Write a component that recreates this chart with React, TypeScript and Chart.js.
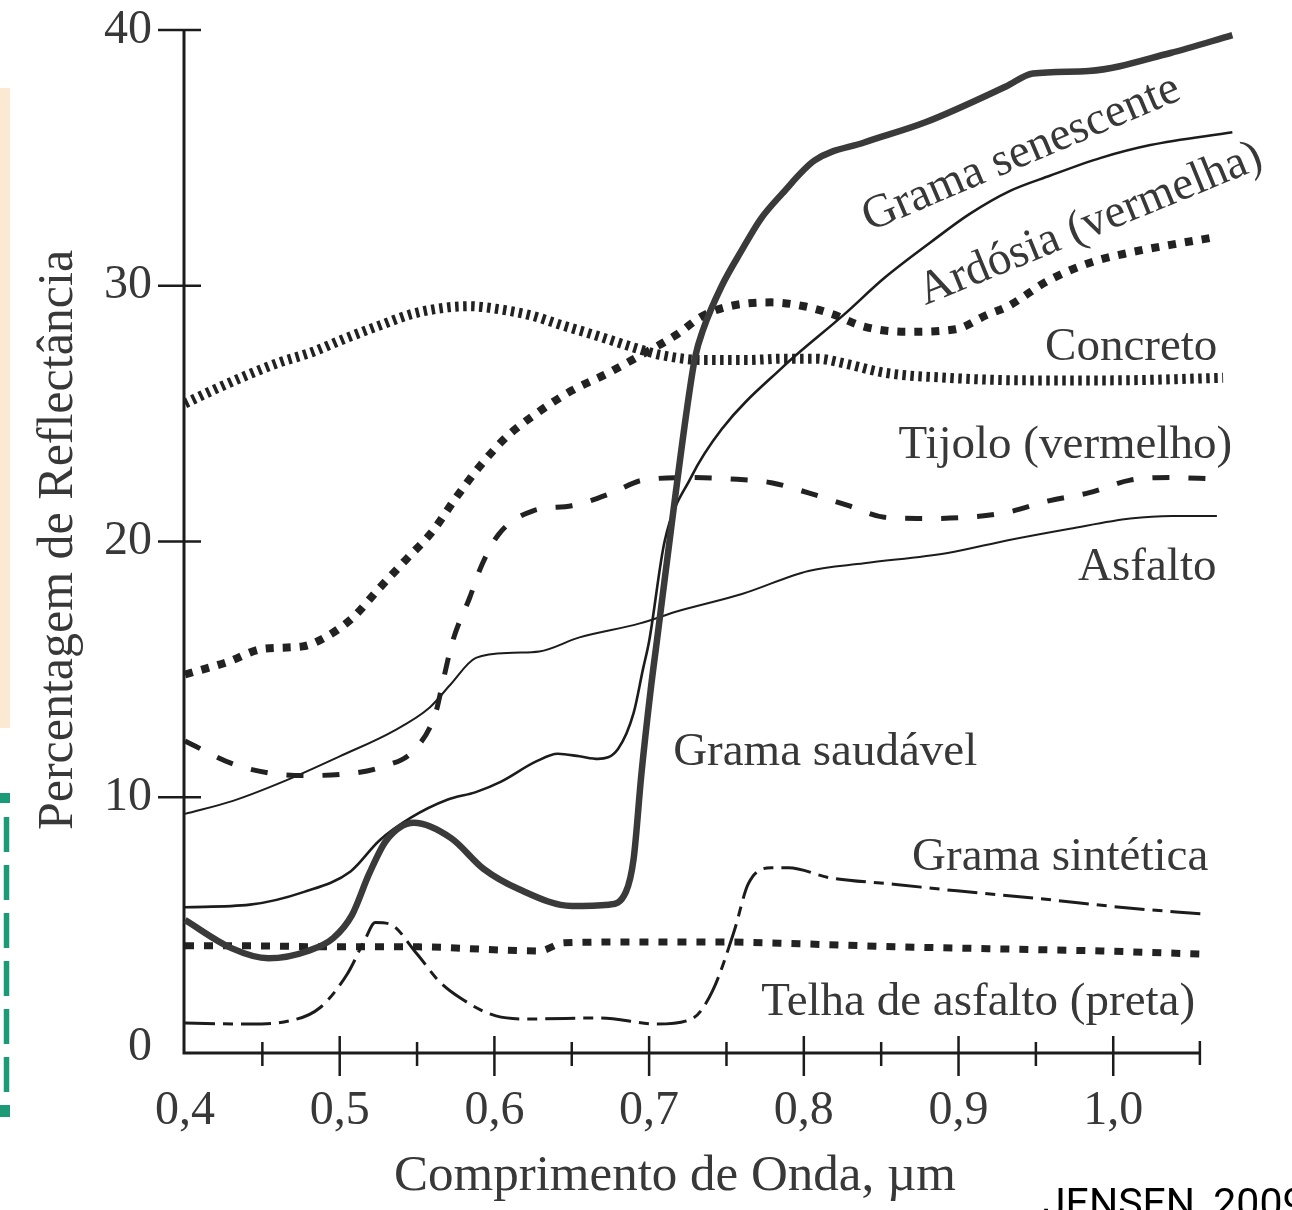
import React, { useEffect, useRef } from 'react';
import { Chart, registerables } from 'chart.js';

Chart.register(...registerables);

// Comprimento de onda (µm) e reflectância (%)
const gramaSaudavelX = [0.4, 0.43, 0.454, 0.48, 0.496, 0.508, 0.519, 0.53, 0.548, 0.572, 0.593, 0.616, 0.65, 0.674, 0.685, 0.69, 0.695, 0.701, 0.705, 0.714, 0.7245, 0.7297, 0.735, 0.747, 0.76, 0.772, 0.786, 0.807, 0.839, 0.879, 0.931, 0.948, 0.984, 1.037, 1.077];
const gramaSaudavelY = [5.2, 4.1, 3.7, 4.0, 4.5, 5.4, 7.0, 8.3, 9.0, 8.4, 7.2, 6.4, 5.75, 5.8, 6.3, 7.6, 10.9, 14.2, 16.1, 20.4, 25.2, 27.2, 28.3, 30.0, 31.4, 32.6, 33.6, 34.9, 35.6, 36.4, 37.8, 38.3, 38.4, 39.1, 39.8];

const gramaSenescenteX = [0.4, 0.442, 0.477, 0.507, 0.5255, 0.546, 0.5695, 0.588, 0.604, 0.627, 0.641, 0.655, 0.667, 0.68, 0.69, 0.696, 0.7, 0.71, 0.727, 0.747, 0.786, 0.8265, 0.852, 0.882, 0.907, 0.933, 0.959, 0.992, 1.024, 1.077];
const gramaSenescenteY = [5.7, 5.8, 6.3, 7.1, 8.3, 9.2, 9.9, 10.2, 10.6, 11.4, 11.7, 11.6, 11.5, 11.9, 13.3, 15.0, 16.1, 20.0, 22.5, 24.4, 26.8, 28.9, 30.3, 31.7, 32.8, 33.7, 34.3, 35.0, 35.5, 36.0];

const ardosiaX = [0.4, 0.428, 0.45, 0.476, 0.489, 0.508, 0.526, 0.543, 0.56, 0.575, 0.59, 0.608, 0.627, 0.65, 0.674, 0.692, 0.718, 0.734, 0.752, 0.779, 0.8, 0.818, 0.839, 0.866, 0.898, 0.918, 0.932, 0.958, 0.985, 1.011, 1.037, 1.066];
const ardosiaY = [14.8, 15.3, 15.8, 15.9, 16.2, 17.0, 18.2, 19.3, 20.4, 21.7, 22.9, 24.1, 25.0, 25.9, 26.6, 27.2, 28.1, 28.8, 29.2, 29.35, 29.2, 28.9, 28.4, 28.2, 28.3, 28.85, 29.2, 30.2, 30.9, 31.3, 31.6, 31.9];

const concretoX = [0.4, 0.4175, 0.44, 0.461, 0.482, 0.504, 0.526, 0.547, 0.569, 0.584, 0.601, 0.623, 0.644, 0.666, 0.692, 0.707, 0.734, 0.765, 0.786, 0.808, 0.827, 0.852, 0.893, 0.945, 0.998, 1.071];
const concretoY = [25.4, 25.9, 26.5, 27.0, 27.4, 27.95, 28.45, 28.9, 29.15, 29.2, 29.1, 28.85, 28.45, 28.05, 27.55, 27.3, 27.1, 27.1, 27.15, 27.15, 26.95, 26.6, 26.4, 26.3, 26.3, 26.4];

const tijoloX = [0.4, 0.431, 0.454, 0.477, 0.502, 0.528, 0.549, 0.562, 0.567, 0.573, 0.584, 0.592, 0.603, 0.625, 0.65, 0.676, 0.696, 0.728, 0.752, 0.779, 0.803, 0.829, 0.852, 0.879, 0.906, 0.932, 0.959, 0.984, 1.011, 1.038, 1.064];
const tijoloY = [12.2, 11.3, 10.95, 10.85, 10.9, 11.2, 11.9, 13.3, 14.6, 16.1, 17.8, 19.1, 20.3, 21.2, 21.4, 21.9, 22.4, 22.5, 22.45, 22.3, 21.9, 21.4, 20.95, 20.9, 20.95, 21.15, 21.6, 21.9, 22.4, 22.5, 22.45];

const asfaltoX = [0.4, 0.431, 0.465, 0.5, 0.535, 0.558, 0.5715, 0.588, 0.612, 0.629, 0.655, 0.694, 0.72, 0.76, 0.803, 0.839, 0.893, 0.932, 0.972, 1.011, 1.038, 1.067];
const asfaltoY = [9.35, 9.86, 10.65, 11.6, 12.6, 13.5, 14.4, 15.45, 15.65, 15.7, 16.25, 16.8, 17.3, 17.95, 18.85, 19.15, 19.55, 20.05, 20.5, 20.9, 21.0, 21.0];

const sinteticaX = [0.4, 0.441, 0.467, 0.487, 0.505, 0.5165, 0.523, 0.532, 0.55, 0.564, 0.578, 0.601, 0.623, 0.669, 0.705, 0.7275, 0.741, 0.755, 0.764, 0.779, 0.79, 0.817, 0.858, 0.899, 0.953, 1.008, 1.057];
const sinteticaY = [1.17, 1.13, 1.25, 1.76, 3.1, 4.46, 5.1, 5.05, 3.87, 2.82, 2.15, 1.45, 1.33, 1.37, 1.13, 1.33, 2.43, 4.77, 6.6, 7.24, 7.24, 6.85, 6.6, 6.34, 6.03, 5.68, 5.44];

const telhaX = [0.4, 0.441, 0.493, 0.551, 0.603, 0.629, 0.645, 0.694, 0.746, 0.797, 0.862, 0.927, 0.992, 1.056];
const telhaY = [4.19, 4.19, 4.15, 4.15, 4.03, 3.99, 4.31, 4.34, 4.34, 4.27, 4.15, 4.07, 3.99, 3.87];

const seriesNames = ['Grama saudável', 'Grama senescente', 'Ardósia (vermelha)', 'Concreto', 'Tijolo (vermelho)', 'Asfalto', 'Grama sintética', 'Telha de asfalto (preta)'];

const yTicks = [0, 10, 20, 30, 40];
const xTicks = [0.4, 0.5, 0.6, 0.7, 0.8, 0.9, 1.0];
const xTickLabels = ['0,4', '0,5', '0,6', '0,7', '0,8', '0,9', '1,0'];
const xMinorTicks = [0.45, 0.55, 0.65, 0.75, 0.85, 0.95];
const xAxisEnd = 1.056;

const yTitle = 'Percentagem de Reflectância';
const xTitle = 'Comprimento de Onda, µm';
const sourceText = 'JENSEN, 2009';

const SERIF = '"Liberation Serif", "DejaVu Serif", serif';
const INK = '#1c1c1c';
const TEXT = '#383838';

function makeSet(label: string, xs: number[], ys: number[], style: any) {
  return {
    label,
    data: xs.map((x, i) => ({ x, y: ys[i] })),
    borderColor: style.color,
    borderWidth: style.width,
    borderDash: style.dash || [],
    borderCapStyle: 'butt',
    borderJoinStyle: 'round',
    pointRadius: 0,
    fill: false,
    cubicInterpolationMode: 'monotone',
    clip: 12,
  };
}

const decorPlugin = {
  id: 'figureDecor',
  beforeDraw(chart: any) {
    const ctx = chart.ctx;
    ctx.save();
    ctx.fillStyle = '#ffffff';
    ctx.fillRect(0, 0, chart.width, chart.height);
    // faixa bege à esquerda
    ctx.fillStyle = '#FCE9D3';
    ctx.fillRect(0, 88, 10, 640);
    // borda tracejada verde
    ctx.fillStyle = '#1A9A76';
    ctx.fillRect(0, 793, 10, 10);
    ctx.fillRect(0, 1105, 10, 12);
    ctx.strokeStyle = '#1A9A76';
    ctx.lineWidth = 5.5;
    ctx.setLineDash([35, 13]);
    ctx.beginPath();
    ctx.moveTo(6.5, 817);
    ctx.lineTo(6.5, 1097);
    ctx.stroke();
    ctx.restore();
  },
  beforeDatasetsDraw(chart: any) {
    const { ctx, scales } = chart;
    const xs = scales.x;
    const ys = scales.y;
    const x0 = xs.getPixelForValue(0.4) - 1;
    const y0 = ys.getPixelForValue(0);
    const yTop = ys.getPixelForValue(40);
    const xEnd = xs.getPixelForValue(xAxisEnd);
    ctx.save();
    ctx.strokeStyle = INK;
    ctx.lineWidth = 3;
    ctx.lineCap = 'butt';
    ctx.beginPath();
    ctx.moveTo(x0, yTop);
    ctx.lineTo(x0, y0 + 1.5);
    ctx.moveTo(x0 - 1.5, y0);
    ctx.lineTo(xEnd, y0);
    ctx.stroke();
    ctx.lineWidth = 2.5;
    ctx.beginPath();
    yTicks.forEach((v) => {
      if (v === 0) return;
      const py = ys.getPixelForValue(v);
      ctx.moveTo(x0 - 26, py);
      ctx.lineTo(x0 + 17, py);
    });
    xTicks.forEach((v) => {
      if (v === 0.4) return;
      const px = xs.getPixelForValue(v);
      ctx.moveTo(px, y0 - 17);
      ctx.lineTo(px, y0 + 23);
    });
    xMinorTicks.forEach((v) => {
      const px = xs.getPixelForValue(v);
      ctx.moveTo(px, y0 - 11);
      ctx.lineTo(px, y0 + 13);
    });
    ctx.moveTo(xEnd, y0 - 12);
    ctx.lineTo(xEnd, y0 + 12);
    ctx.stroke();

    // rótulos dos eixos
    ctx.fillStyle = TEXT;
    ctx.font = `48px ${SERIF}`;
    ctx.textAlign = 'right';
    ctx.textBaseline = 'middle';
    yTicks.forEach((v) => {
      const py = ys.getPixelForValue(v);
      ctx.fillText(String(v), x0 - 32, v === 0 ? py - 6 : py);
    });
    ctx.textAlign = 'center';
    xTicks.forEach((v, i) => {
      const px = xs.getPixelForValue(v);
      ctx.fillText(xTickLabels[i], px, y0 + 58);
    });
    ctx.textBaseline = 'alphabetic';
    ctx.font = `51px ${SERIF}`;
    ctx.fillText(xTitle, 675, 1190);
    ctx.save();
    ctx.translate(72, 540);
    ctx.rotate(-Math.PI / 2);
    ctx.font = `50px ${SERIF}`;
    ctx.fillText(yTitle, 0, 0);
    ctx.restore();
    ctx.restore();
  },
  afterDraw(chart: any) {
    const { ctx, scales } = chart;
    const xs = scales.x;
    const ys = scales.y;
    const notes = [
      { t: seriesNames[1], x: 0.9437, y: 34.72, a: -23 },
      { t: seriesNames[2], x: 0.9883, y: 31.95, a: -22.2 },
      { t: seriesNames[3], x: 1.0116, y: 27.1, a: 0 },
      { t: seriesNames[4], x: 0.969, y: 23.26, a: 0 },
      { t: seriesNames[5], x: 1.022, y: 18.49, a: 0 },
      { t: seriesNames[0], x: 0.8138, y: 11.26, a: 0 },
      { t: seriesNames[6], x: 0.9657, y: 7.16, a: 0 },
      { t: seriesNames[7], x: 0.9127, y: 1.49, a: 0 },
    ];
    ctx.save();
    ctx.fillStyle = TEXT;
    ctx.font = `47px ${SERIF}`;
    ctx.textAlign = 'center';
    ctx.textBaseline = 'alphabetic';
    notes.forEach((n) => {
      ctx.save();
      ctx.translate(xs.getPixelForValue(n.x), ys.getPixelForValue(n.y));
      ctx.rotate((n.a * Math.PI) / 180);
      ctx.fillText(n.t, 0, 0);
      ctx.restore();
    });
    ctx.fillStyle = '#000000';
    ctx.font = '41px Roboto, "Liberation Sans", sans-serif';
    ctx.textAlign = 'left';
    ctx.fillText(sourceText, 1043, 1217);
    ctx.restore();
  },
};

export default function App() {
  const canvasRef = useRef<HTMLCanvasElement | null>(null);

  useEffect(() => {
    if (!canvasRef.current) return;
    const datasets = [
      makeSet(seriesNames[0], gramaSaudavelX, gramaSaudavelY, { color: '#3a3a3a', width: 6.5 }),
      makeSet(seriesNames[1], gramaSenescenteX, gramaSenescenteY, { color: INK, width: 2.6 }),
      makeSet(seriesNames[2], ardosiaX, ardosiaY, { color: '#222222', width: 8, dash: [8, 9] }),
      makeSet(seriesNames[3], concretoX, concretoY, { color: '#222222', width: 10, dash: [3.5, 4.5] }),
      makeSet(seriesNames[4], tijoloX, tijoloY, { color: '#222222', width: 5, dash: [17, 19] }),
      makeSet(seriesNames[5], asfaltoX, asfaltoY, { color: INK, width: 2 }),
      makeSet(seriesNames[6], sinteticaX, sinteticaY, { color: INK, width: 3, dash: [30, 8, 10, 8] }),
      makeSet(seriesNames[7], telhaX, telhaY, { color: '#222222', width: 7, dash: [9, 10] }),
    ];
    const chart = new Chart(canvasRef.current, {
      type: 'line',
      data: { datasets } as any,
      options: {
        responsive: false,
        animation: false,
        events: [],
        layout: { padding: { left: 185, top: 30, right: 55, bottom: 157 } },
        scales: {
          x: { type: 'linear', min: 0.4, max: 1.08, display: false },
          y: { type: 'linear', min: 0, max: 40, display: false },
        },
        plugins: { legend: { display: false }, tooltip: { enabled: false } },
      } as any,
      plugins: [decorPlugin as any],
    });
    return () => chart.destroy();
  }, []);

  return (
    <div style={{ position: 'absolute', left: 0, top: 0, width: 1292, height: 1210, overflow: 'hidden', background: '#fff' }}>
      <canvas ref={canvasRef} width={1292} height={1210} style={{ display: 'block' }} />
    </div>
  );
}
